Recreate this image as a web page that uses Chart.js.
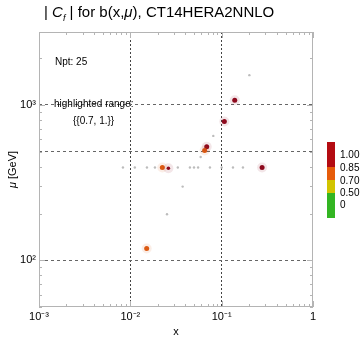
<!DOCTYPE html>
<html lang="en">
<head>
<meta charset="UTF-8">
<title>|Cf| for b(x,mu), CT14HERA2NNLO</title>
<script src="https://cdn.jsdelivr.net/npm/chart.js"></script>
<style>
  html, body { margin: 0; padding: 0; background: #fff; }
  #wrap { position: relative; width: 360px; height: 340px; font-family: "Liberation Sans", Arial, sans-serif; color: #000; }
  #title { position: absolute; left: 44px; top: 3px; font-size: 15px; white-space: nowrap; }
  #title sub { font-size: 9px; }
  .note { position: absolute; font-size: 10px; white-space: nowrap; }
  canvas { position: absolute; left: 0; top: 0; }
</style>
</head>
<body>
<div id="wrap">
  <canvas id="cf" width="360" height="340"></canvas>
  <div id="title">| <i>C</i><sub><i>f</i></sub> | for b(x,<i>μ</i>), CT14HERA2NNLO</div>
  <div class="note" style="left:55px; top:56px;">Npt: 25</div>
  <div class="note" style="left:54px; top:98px;">highlighted range:</div>
  <div class="note" style="left:73px; top:115px;">{{0.7, 1.}}</div>
</div>
<script>
// points inside the highlighted range (|Cf| between 0.7 and 1)
const hiX  = [0.139, 0.107, 0.0686, 0.0651, 0.0224, 0.0261, 0.277, 0.0151];
const hiMu = [1072, 782, 538, 509, 396, 391, 396, 119];
const hiCf = [0.95, 0.94, 0.88, 0.78, 0.80, 0.92, 0.89, 0.82];

// remaining points, drawn small and grey
const loX  = [0.201, 0.081, 0.0589, 0.0374, 0.0252,
              0.0083, 0.0112, 0.0152, 0.0186, 0.0331, 0.0449, 0.0498, 0.0552, 0.0744, 0.1, 0.133, 0.171];
const loMu = [1556, 632, 462, 298, 198,
              396, 396, 396, 396, 396, 396, 396, 396, 396, 396, 396, 396];

// colour bar
const cbEdges  = [0, 0.5, 0.7, 0.85, 1.0];
const cbColors = ['#33b522', '#d2c400', '#e65c0a', '#b40c12'];
const cbLabels = ['1.00', '0.85', '0.70', '0.50', '0'];

const xGrid = [0.01, 0.1];
const yGrid = [100, 500, 1000];
const xLabels = { '0.001': '10⁻³', '0.01': '10⁻²', '0.1': '10⁻¹', '1': '1' };
const yLabels = { '100': '10²', '1000': '10³' };

const FONT = '"Liberation Sans", Arial, sans-serif';

function cfColor(v, a) {
  let c = '#8e0a1e';
  if (v < 0.85) c = '#dc5a12';
  if (a === undefined) return c;
  const r = parseInt(c.slice(1, 3), 16), g = parseInt(c.slice(3, 5), 16), b = parseInt(c.slice(5, 7), 16);
  return `rgba(${r},${g},${b},${a})`;
}

function near(v, list) {
  return list.some(g => Math.abs(Math.log10(v) - Math.log10(g)) < 1e-6);
}

function logTicks(min, max) {
  const out = [];
  for (let e = Math.floor(Math.log10(min)); e <= Math.ceil(Math.log10(max)); e++) {
    for (let d = 1; d <= 9; d++) {
      const v = parseFloat((d * Math.pow(10, e)).toPrecision(6));
      if (v >= min - 1e-12 && v <= max + 1e-9) out.push({ value: v });
    }
  }
  return out;
}

const hiPts = hiX.map((x, i) => ({ x: x, y: hiMu[i] }));
const loPts = loX.map((x, i) => ({ x: x, y: loMu[i] }));

const frame = {
  id: 'frame',
  afterDraw(chart) {
    const { ctx, chartArea: a } = chart;
    const xs = chart.scales.x, ys = chart.scales.y;
    ctx.save();
    ctx.strokeStyle = '#b4b4b4';
    ctx.lineWidth = 1;
    ctx.strokeRect(a.left + 0.5, a.top + 0.5, a.right - a.left - 1, a.bottom - a.top - 1);
    ctx.beginPath();
    xs.ticks.forEach(t => {
      const p = Math.round(xs.getPixelForValue(t.value)) + 0.5;
      const len = xLabels[String(t.value)] ? 6 : 3;
      ctx.moveTo(p, a.bottom); ctx.lineTo(p, a.bottom - len);
      ctx.moveTo(p, a.top); ctx.lineTo(p, a.top + len);
    });
    ys.ticks.forEach(t => {
      const p = Math.round(ys.getPixelForValue(t.value)) + 0.5;
      const len = yLabels[String(t.value)] ? 6 : 3;
      ctx.moveTo(a.left, p); ctx.lineTo(a.left + len, p);
      ctx.moveTo(a.right, p); ctx.lineTo(a.right - len, p);
    });
    ctx.stroke();

    // y axis title: italic mu, upright unit
    ctx.fillStyle = '#000';
    ctx.textBaseline = 'middle';
    ctx.translate(13, (a.top + a.bottom) / 2);
    ctx.rotate(-Math.PI / 2);
    ctx.font = 'italic 11px ' + FONT;
    const w1 = ctx.measureText('μ').width;
    ctx.font = '11px ' + FONT;
    const w2 = ctx.measureText(' [GeV]').width;
    ctx.font = 'italic 11px ' + FONT;
    ctx.fillText('μ', -(w1 + w2) / 2, 0);
    ctx.font = '11px ' + FONT;
    ctx.fillText(' [GeV]', -(w1 + w2) / 2 + w1, 0);
    ctx.setTransform(1, 0, 0, 1, 0, 0);

    // colour bar, top segment first
    const heights = [25, 13, 13, 25];
    let y = 142;
    for (let i = cbColors.length - 1; i >= 0; i--) {
      const h = heights[cbColors.length - 1 - i];
      ctx.fillStyle = cbColors[i];
      ctx.fillRect(327, y, 8, h);
      y += h;
    }
    ctx.fillStyle = '#000';
    ctx.font = '10px ' + FONT;
    ctx.textBaseline = 'middle';
    const ly = [155, 168, 181, 193, 205];
    cbLabels.forEach((s, i) => ctx.fillText(s, 340, ly[i]));
    ctx.restore();
  }
};

new Chart(document.getElementById('cf'), {
  type: 'scatter',
  data: {
    datasets: [
      {
        label: 'other',
        data: loPts,
        pointRadius: 1.2,
        pointBackgroundColor: '#bcbcbc',
        pointBorderWidth: 0
      },
      {
        label: 'halo',
        data: hiPts,
        pointRadius: 5,
        pointBackgroundColor: hiCf.map(v => cfColor(v, 0.1)),
        pointBorderWidth: 0
      },
      {
        label: 'highlighted',
        data: hiPts,
        pointRadius: hiCf.map((v, i) => i === 5 ? 1.8 : 2.5),
        pointBackgroundColor: hiCf.map(v => cfColor(v)),
        pointBorderWidth: 0
      }
    ]
  },
  options: {
    responsive: false,
    animation: false,
    layout: { padding: { left: 0, right: 47, top: 32, bottom: 0 } },
    plugins: { legend: { display: false }, tooltip: { enabled: false } },
    scales: {
      x: {
        type: 'logarithmic',
        min: 0.001,
        max: 1,
        afterBuildTicks: s => { s.ticks = logTicks(0.001, 1); },
        afterFit: s => { s.height = 33; },
        border: { display: false, dash: [2, 2] },
        grid: {
          drawTicks: false,
          lineWidth: 1,
          color: c => (c.tick && near(c.tick.value, xGrid)) ? '#444' : 'rgba(0,0,0,0)'
        },
        ticks: {
          autoSkip: false,
          maxRotation: 0,
          padding: 3,
          color: '#000',
          font: { family: FONT, size: 11 },
          callback: v => xLabels[String(v)] || ''
        },
        title: {
          display: true,
          text: 'x',
          color: '#000',
          padding: { top: 0, bottom: 1 },
          font: { family: FONT, size: 11 }
        }
      },
      y: {
        type: 'logarithmic',
        min: 50,
        max: 2950,
        afterBuildTicks: s => { s.ticks = logTicks(50, 2950); },
        afterFit: s => { s.width = 39; },
        border: { display: false, dash: [3, 3] },
        grid: {
          drawTicks: false,
          lineWidth: 1,
          color: c => (c.tick && near(c.tick.value, yGrid)) ? '#666' : 'rgba(0,0,0,0)'
        },
        ticks: {
          autoSkip: false,
          padding: 3,
          color: '#000',
          font: { family: FONT, size: 11 },
          callback: v => yLabels[String(v)] || ''
        },
        title: { display: false }
      }
    }
  },
  plugins: [frame]
});
</script>
</body>
</html>
